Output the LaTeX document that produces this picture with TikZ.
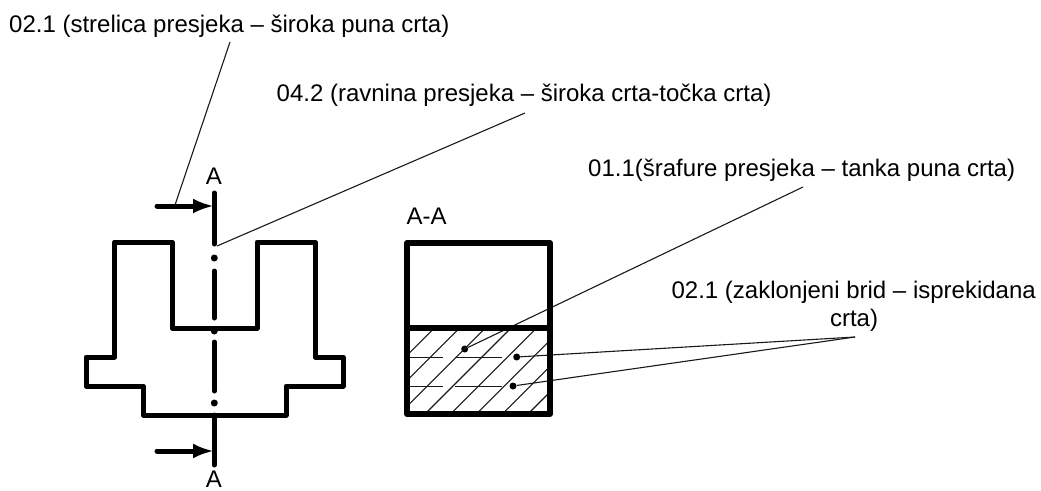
\documentclass[tikz,border=0pt]{standalone}
\usepackage{fontspec}
\setmainfont{Liberation Sans}
\usetikzlibrary{arrows.meta}
\tikzset{
  thick line/.style={line width=5pt,line cap=round,line join=round,black},
  sect line/.style={line width=5pt,line cap=round,black},
  thin line/.style={line width=1.1pt,black!90},
  hatch line/.style={line width=1.1pt,black!90},
  arrow line/.style={line width=5pt,line cap=round,black,-{Latex[length=21pt,width=15pt]}},
  lbl/.style={font=\fontsize{24}{28}\selectfont,inner sep=0pt,anchor=base west,black},
  dotmark/.style={circle,fill=black,inner sep=0pt,minimum size=#1},
}
\begin{document}
\begin{tikzpicture}[x=1pt,y=-1pt]
\useasboundingbox (0,0) rectangle (1041,490);
% labels
\node[lbl] (t1) at (9,32) {02.1 (strelica presjeka – široka puna crta)};
\node[lbl] (t2) at (276.5,101.5) {04.2 (ravnina presjeka – široka crta-točka crta)};
\node[lbl] (t3) at (588,176) {01.1(šrafure presjeka – tanka puna crta)};
\node[lbl,anchor=base east] (t4) at (1036,298) {02.1 (zaklonjeni brid – isprekidana};
\node[lbl,anchor=base] (t5) at (854,326.5) {crta)};
\node[lbl,anchor=base] (a1) at (214,184) {A};
\node[lbl,anchor=base] (a2) at (214,487) {A};
\node[lbl] (aa) at (406.5,224) {A-A};
% coordinates
\coordinate (c1) at (230,42);
\coordinate (c2) at (525,113);
\coordinate (c3) at (803,187);
\coordinate (c4) at (855,337);
\coordinate (sa) at (175,205);
\coordinate (sb) at (217,246);
\node[dotmark=7pt] (d1) at (464.7,349) {};
\node[dotmark=7pt] (d2) at (516.7,357) {};
\node[dotmark=7pt] (d3) at (513,386) {};
% hatch
\begin{scope}
\clip (407,328) rectangle (550,414);
\foreach \x in {434.3,459.7,485.3,511,536.7,562.3,588.3,614}
  \draw[hatch line] (\x,328) -- (\x-92,420);
\end{scope}
\draw[hatch line] (407,357.3) -- (443,357.3) (455,357.3) -- (502,357.3);
\draw[hatch line] (407,386.3) -- (443,386.3) (455,386.3) -- (502,386.3);
% leaders
\draw[thin line] (c1) -- (sa);
\draw[thin line] (c2) -- (sb);
\draw[thin line] (c3) -- (d1);
\draw[thin line] (c4) -- (d2);
\draw[thin line] (c4) -- (d3);
% section part
\draw[thick line] (114.5,242) -- (172,242) -- (172,328) -- (257,328) -- (257,242) -- (315,242) -- (315,357) -- (343,357) -- (343,386) -- (286,386) -- (286,415) -- (143,415) -- (143,386) -- (86,386) -- (86,357) -- (114.5,357) -- cycle;
\draw[line width=6pt,line join=round,black] (407,243) rectangle (550,414);
\draw[line width=6pt,black] (407,328) -- (550,328);
% section line
\draw[sect line] (214.3,193) -- (214.3,244);
\draw[sect line] (214.3,271) -- (214.3,318);
\draw[sect line] (214.3,342) -- (214.3,391);
\draw[sect line] (214.3,415) -- (214.3,465);
\node[dotmark=7pt] (s1) at (214.3,258) {};
\node[dotmark=7pt] (s2) at (214.3,331) {};
\node[dotmark=7pt] (s3) at (214.3,403) {};
\coordinate (ah1s) at (157,206);
\coordinate (ah1e) at (214,206);
\coordinate (ah2s) at (157,451);
\coordinate (ah2e) at (214,451);
\draw[arrow line] (ah1s) -- (ah1e);
\draw[arrow line] (ah2s) -- (ah2e);
\end{tikzpicture}
\end{document}
